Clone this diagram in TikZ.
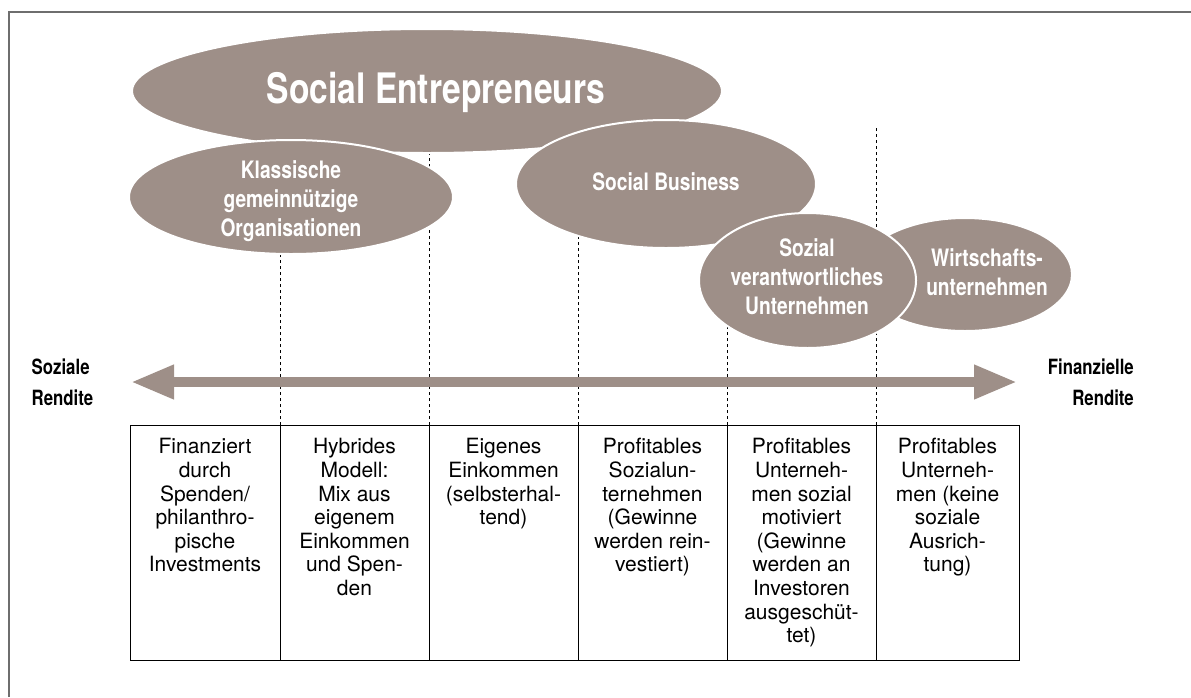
\documentclass[tikz,border=0pt]{standalone}
\usepackage{fontspec}
\setmainfont{TeX Gyre Heros}
\newfontfamily\condfont[FakeStretch=0.8]{TeX Gyre Heros}
\usetikzlibrary{shapes.geometric,arrows.meta}
\definecolor{taupe}{RGB}{158,143,136}
\definecolor{framegray}{RGB}{110,110,110}

\begin{document}
\begin{tikzpicture}[x=1pt,y=-1pt,
  blob/.style={ellipse, fill=taupe, draw=white, line width=2pt, inner sep=0pt},
  blobtext/.style={text=white, font=\condfont\bfseries\fontsize{24}{29}\selectfont, align=center, inner sep=0pt},
  titletext/.style={text=white, font=\condfont\bfseries\fontsize{42}{48}\selectfont, inner sep=0pt},
  sidelabel/.style={font=\condfont\bfseries\fontsize{21}{31.7}\selectfont, inner sep=0pt},
  cell/.style={draw=black, line width=1.1pt, minimum height=235pt, inner sep=0pt, anchor=north west},
  celltext/.style={font=\fontsize{21}{23.6}\selectfont, align=center, inner sep=0pt, anchor=north},
  guide/.style={black, line width=0.9pt, dash pattern=on 3.5pt off 2.5pt},
  axis/.style={taupe, line width=10pt, {Triangle[length=43pt,width=32pt]}-{Triangle[length=43pt,width=32pt]}}]

\useasboundingbox (0,0) rectangle (1191,697);

% frame
\draw[framegray, line width=1.5pt] (9,697) -- (9,12) -- (1191,12);

% table cells
\node[cell, minimum width=150pt] (c1) at (130,425) {};
\node[cell, minimum width=149pt] (c2) at (280,425) {};
\node[cell, minimum width=149pt] (c3) at (429,425) {};
\node[cell, minimum width=149pt] (c4) at (578,425) {};
\node[cell, minimum width=149pt] (c5) at (727,425) {};
\node[cell, minimum width=143pt] (c6) at (876,425) {};

% dashed guides rising from the column borders
\coordinate (gtop) at (0,128);
\foreach \c in {c2,c3,c4,c5,c6}
  \draw[guide] (\c.north west) -- (\c.north west |- gtop);

% ellipses
\node[blob, minimum width=590pt, minimum height=124pt] (se) at (427,91) {};
\node[blob, minimum width=324pt, minimum height=114pt] (kg) at (291,197) {};
\node[blob, minimum width=300pt, minimum height=128pt] (sb) at (666,184) {};
\node[blob, minimum width=214pt, minimum height=113pt] (wu) at (965,274.5) {};
\node[blob, minimum width=217pt, minimum height=135pt] (sv) at (807.5,280.5) {};

\node[titletext, anchor=base] (setxt) at (436,103.3) {Social Entrepreneurs};
\node[blobtext, anchor=north] (kgtxt) at (291,160) {Klassische\\gemeinnützige\\Organisationen};
\node[blobtext, anchor=base] (sbtxt) at (666,190.7) {Social Business};
\node[blobtext, anchor=north] (svtxt) at (807,238.3) {Sozial\\verantwortliches\\Unternehmen};
\node[blobtext, anchor=north] (wutxt) at (987,248.3) {Wirtschafts-\\unternehmen};

% axis
\coordinate (al) at (131,382);
\coordinate (ar) at (1017,382);
\draw[axis] (al) -- (ar);
\node[sidelabel, anchor=north west, align=left] (soz) at (31.5,358.3) {Soziale\\Rendite};
\node[sidelabel, anchor=north east, align=right] (fin) at (1134,358.3) {Finanzielle\\Rendite};

% cell texts
\node[celltext] (t1) at (205,438.3) {Finanziert\\durch\\Spenden/\\philanthro-\\pische\\Investments};
\node[celltext] (t2) at (354.5,438.3) {Hybrides\\Modell:\\Mix aus\\eigenem\\Einkommen\\und Spen-\\den};
\node[celltext] (t3) at (503.5,438.3) {Eigenes\\Einkommen\\(selbsterhal-\\tend)};
\node[celltext] (t4) at (652.5,438.3) {Profitables\\Sozialun-\\ternehmen\\(Gewinne\\werden rein-\\vestiert)};
\node[celltext] (t5) at (801.5,438.3) {Profitables\\Unterneh-\\men sozial\\motiviert\\(Gewinne\\werden an\\Investoren\\ausgeschüt-\\tet)};
\node[celltext] (t6) at (947.5,438.3) {Profitables\\Unterneh-\\men (keine\\soziale\\Ausrich-\\tung)};
\end{tikzpicture}
\end{document}
